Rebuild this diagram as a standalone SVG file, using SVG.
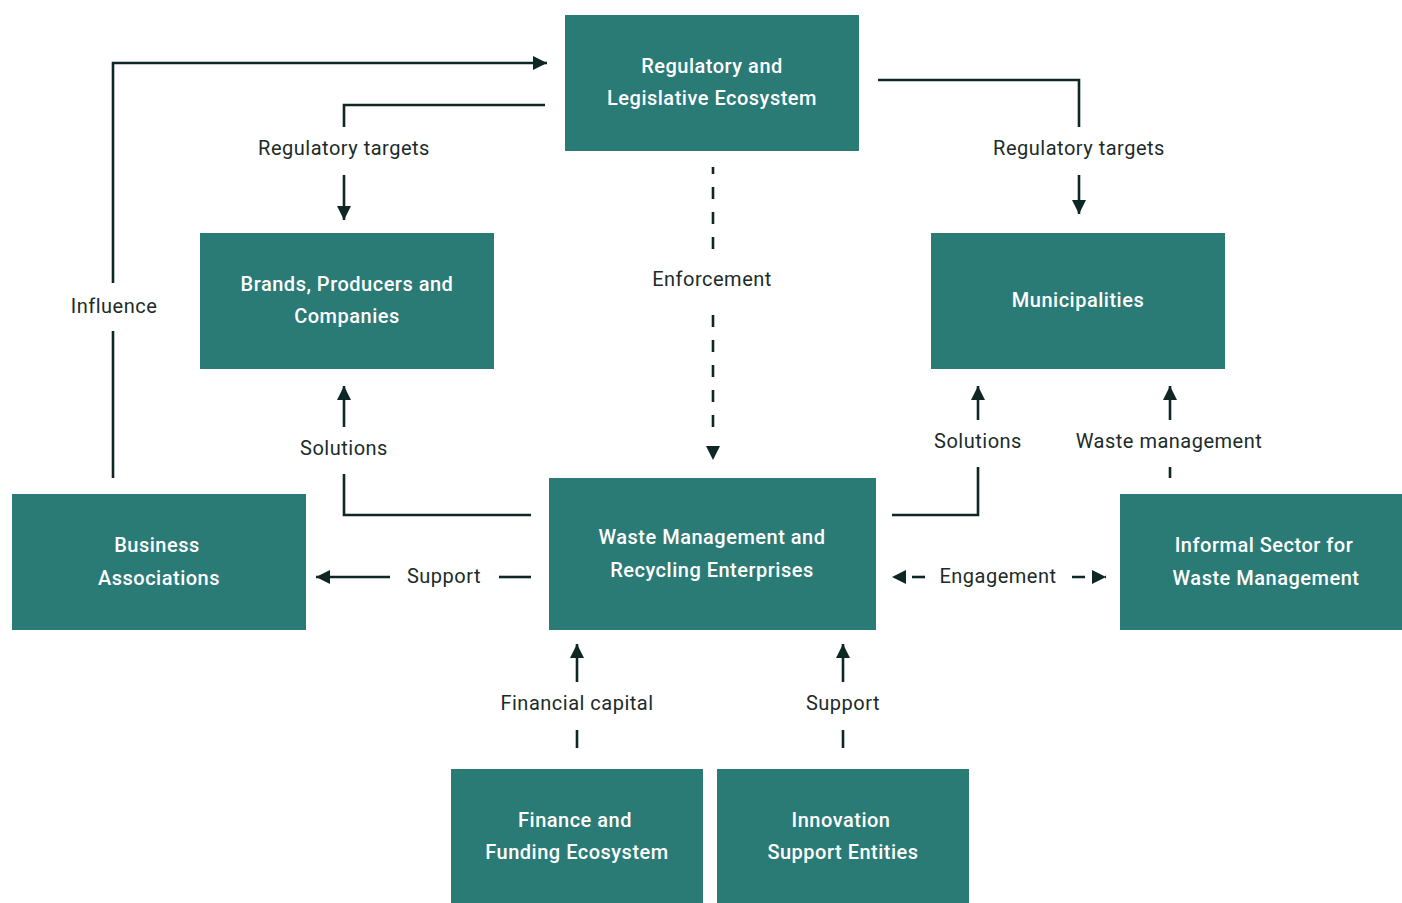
<svg xmlns="http://www.w3.org/2000/svg" width="1402" height="903" viewBox="0 0 1402 903">
<style>
.node rect{fill:#2a7a76}
.node text{fill:#ffffff;font-family:Roboto,"Liberation Sans",sans-serif;font-size:20px;font-weight:500;letter-spacing:0.5px;text-anchor:middle}
.lbl{fill:#1c2b29;font-family:Roboto,"Liberation Sans",sans-serif;font-size:20px;font-weight:400;letter-spacing:0.5px;text-anchor:middle;dominant-baseline:central}
.ln{stroke:#0e2724;stroke-width:2.6;fill:none}
.dash{stroke-dasharray:12,13}
</style>
<defs>
<marker id="ah" viewBox="0 0 14 14" refX="14" refY="7" markerWidth="14" markerHeight="14" markerUnits="userSpaceOnUse" orient="auto">
<path d="M0,0 L14,7 L0,14 Z" fill="#0e2724"/>
</marker>
</defs>
<rect width="1402" height="903" fill="#ffffff"/>
<g id="connectors">
<!-- Influence -->
<path class="ln" d="M113,478 V331"/>
<path class="ln" d="M113,283 V63 H547" marker-end="url(#ah)"/>
<text class="lbl" x="114" y="306">Influence</text>
<!-- Regulatory targets left -->
<path class="ln" d="M545,105 H344 V127"/>
<text class="lbl" x="344" y="148">Regulatory targets</text>
<path class="ln" d="M344,175 V220" marker-end="url(#ah)"/>
<!-- Regulatory targets right -->
<path class="ln" d="M878,80 H1079 V127"/>
<text class="lbl" x="1079" y="148">Regulatory targets</text>
<path class="ln" d="M1079,175 V214" marker-end="url(#ah)"/>
<!-- Enforcement -->
<path class="ln dash" d="M713,167 V251" style="stroke-dashoffset:5"/>
<text class="lbl" x="712" y="279">Enforcement</text>
<path class="ln dash" d="M713,315 V430"/>
<path d="M706,446 L720,446 L713,460 Z" fill="#0e2724"/>
<!-- Solutions left -->
<path class="ln" d="M531,515 H344 V474"/>
<text class="lbl" x="344" y="448">Solutions</text>
<path class="ln" d="M344,427 V386" marker-end="url(#ah)"/>
<!-- Support left -->
<path class="ln" d="M531,577 H499"/>
<text class="lbl" x="444" y="576">Support</text>
<path class="ln" d="M390,577 H316" marker-end="url(#ah)"/>
<!-- Solutions right -->
<path class="ln" d="M892,515 H978 V467"/>
<text class="lbl" x="978" y="441">Solutions</text>
<path class="ln" d="M978,420 V386" marker-end="url(#ah)"/>
<!-- Waste management -->
<path class="ln" d="M1170,478 V467"/>
<text class="lbl" x="1169" y="441">Waste management</text>
<path class="ln" d="M1170,420 V386" marker-end="url(#ah)"/>
<!-- Engagement -->
<path class="ln" d="M925,577 H892" style="stroke-dasharray:13,20" marker-end="url(#ah)"/>
<text class="lbl" x="998" y="576">Engagement</text>
<path class="ln" d="M1072,577 H1106" style="stroke-dasharray:13,20" marker-end="url(#ah)"/>
<!-- Financial capital -->
<path class="ln" d="M577,748 V730"/>
<text class="lbl" x="577" y="703">Financial capital</text>
<path class="ln" d="M577,682 V644" marker-end="url(#ah)"/>
<!-- Support bottom -->
<path class="ln" d="M843,748 V730"/>
<text class="lbl" x="843" y="703">Support</text>
<path class="ln" d="M843,682 V644" marker-end="url(#ah)"/>
</g>
<g id="regulatory" class="node">
<rect x="565" y="15" width="294" height="136"/>
<text x="712" y="73">Regulatory and</text>
<text x="712" y="105">Legislative Ecosystem</text>
</g>
<g id="brands" class="node">
<rect x="200" y="233" width="294" height="136"/>
<text x="347" y="291">Brands, Producers and</text>
<text x="347" y="323">Companies</text>
</g>
<g id="municipalities" class="node">
<rect x="931" y="233" width="294" height="136"/>
<text x="1078" y="307">Municipalities</text>
</g>
<g id="business" class="node">
<rect x="12" y="494" width="294" height="136"/>
<text x="157" y="552">Business</text>
<text x="159" y="585">Associations</text>
</g>
<g id="waste" class="node">
<rect x="549" y="478" width="327" height="152"/>
<text x="712" y="544">Waste Management and</text>
<text x="712" y="577">Recycling Enterprises</text>
</g>
<g id="informal" class="node">
<rect x="1120" y="494" width="282" height="136"/>
<text x="1264" y="552">Informal Sector for</text>
<text x="1266" y="585">Waste Management</text>
</g>
<g id="finance" class="node">
<rect x="451" y="769" width="252" height="134"/>
<text x="575" y="827">Finance and</text>
<text x="577" y="859">Funding Ecosystem</text>
</g>
<g id="innovation" class="node">
<rect x="717" y="769" width="252" height="134"/>
<text x="841" y="827">Innovation</text>
<text x="843" y="859">Support Entities</text>
</g>
</svg>
